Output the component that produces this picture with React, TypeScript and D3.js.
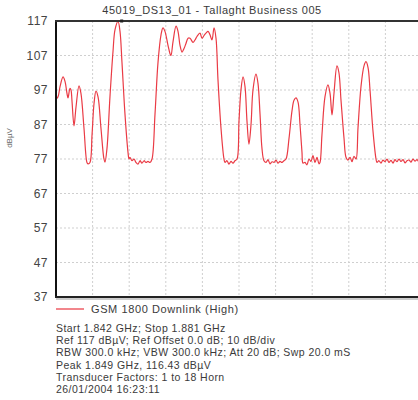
import React, { useEffect, useRef } from 'react';
import * as d3 from 'd3';

const title = '45019_DS13_01 - Tallaght Business 005';
const yLabel = 'dBµV';
const legendLabel = 'GSM 1800 Downlink (High)';
const startMHz = 1842;
const stopMHz = 1881;
const yTicks = [117, 107, 97, 87, 77, 67, 57, 47, 37];
const xDivs = 10;
const peakMHz = 1849;
const infoLines = [
    'Start 1.842 GHz; Stop 1.881 GHz',
    'Ref 117 dBµV; Ref Offset 0.0 dB; 10 dB/div',
    'RBW 300.0 kHz; VBW 300.0 kHz; Att 20 dB; Swp 20.0 mS',
    'Peak 1.849 GHz, 116.43 dBµV',
    'Transducer Factors: 1 to 18 Horn',
    '26/01/2004 16:23:11',
];

// [MHz, dBµV]
const trace: [number, number][] = [
    [1842.00, 94.4], [1842.21, 95], [1842.43, 98], [1842.75, 100.8], [1842.96, 99.5],
    [1843.17, 96], [1843.28, 94.7], [1843.49, 97.5], [1843.60, 97], [1843.70, 94],
    [1843.92, 86.6], [1844.13, 92], [1844.45, 98.2], [1844.66, 96], [1844.98, 86],
    [1845.30, 76], [1845.41, 75.6], [1845.62, 76], [1845.84, 84], [1846.05, 93],
    [1846.26, 96.7], [1846.48, 95], [1846.79, 86], [1847.11, 77], [1847.22, 76.1],
    [1847.43, 80], [1847.75, 95], [1848.07, 108], [1848.29, 114.5], [1848.61, 116.9],
    [1848.82, 114], [1849.03, 105], [1849.35, 90], [1849.67, 79], [1849.78, 77],
    [1849.88, 77.5], [1850.10, 76.5], [1850.31, 77], [1850.52, 76], [1850.74, 75.5],
    [1850.95, 76.5], [1851.16, 75.8], [1851.38, 76.5], [1851.59, 76], [1851.80, 76.3],
    [1852.02, 76], [1852.23, 77], [1852.55, 90], [1852.87, 105], [1853.19, 113],
    [1853.40, 115], [1853.61, 114], [1853.93, 110], [1854.15, 107.5], [1854.25, 107],
    [1854.47, 111], [1854.79, 115.5], [1855.00, 114], [1855.21, 110], [1855.43, 108],
    [1855.64, 109], [1855.85, 110.5], [1856.07, 112], [1856.28, 112], [1856.60, 110.8],
    [1856.81, 111.5], [1857.02, 112.5], [1857.34, 113.5], [1857.56, 112], [1857.77, 112.8],
    [1857.98, 113.5], [1858.20, 114], [1858.41, 113], [1858.62, 111.5], [1858.84, 115],
    [1859.05, 112], [1859.26, 100], [1859.58, 86], [1859.90, 77], [1860.01, 76],
    [1860.22, 76.5], [1860.43, 75.5], [1860.65, 76.3], [1860.86, 75.8], [1861.07, 76.5],
    [1861.29, 77], [1861.50, 88], [1861.71, 97], [1861.93, 100.8], [1862.14, 98],
    [1862.35, 88], [1862.56, 81.3], [1862.78, 87], [1862.99, 97], [1863.31, 101.6],
    [1863.52, 99], [1863.74, 90], [1863.95, 80], [1864.16, 76.5], [1864.38, 76],
    [1864.59, 76.8], [1864.80, 75.6], [1865.02, 76.2], [1865.23, 76], [1865.44, 76.7],
    [1865.65, 75.8], [1865.87, 76.3], [1866.08, 76], [1866.29, 76.5], [1866.51, 77],
    [1866.83, 83], [1867.15, 91], [1867.36, 94], [1867.57, 94.7], [1867.79, 93.5],
    [1868.00, 87], [1868.21, 79], [1868.32, 75.8], [1868.53, 76], [1868.74, 75.3],
    [1868.96, 77], [1869.17, 76.3], [1869.38, 78], [1869.60, 76], [1869.81, 77.5],
    [1870.02, 75.6], [1870.13, 76], [1870.34, 84], [1870.66, 95], [1870.98, 98.5],
    [1871.20, 96], [1871.41, 89.8], [1871.62, 96], [1871.94, 104], [1872.15, 102],
    [1872.37, 94], [1872.69, 83], [1872.90, 77.5], [1873.11, 76.7], [1873.33, 77.5],
    [1873.54, 76.2], [1873.75, 77.8], [1873.97, 77], [1874.18, 86], [1874.50, 98],
    [1874.82, 104], [1875.03, 105.2], [1875.25, 103.5], [1875.46, 97], [1875.78, 85],
    [1876.10, 77], [1876.20, 76], [1876.42, 76.5], [1876.63, 75.8], [1876.84, 76.7],
    [1877.06, 76.2], [1877.27, 77], [1877.48, 76], [1877.70, 76.6], [1877.91, 75.8],
    [1878.12, 76.8], [1878.34, 76.2], [1878.55, 77], [1878.76, 76.3], [1878.98, 76.8],
    [1879.19, 75.9], [1879.40, 76.5], [1879.62, 76.7], [1879.83, 76.1], [1880.04, 77],
    [1880.25, 76.4], [1880.47, 76.8], [1880.68, 76.2], [1881.00, 76.5],
];

const font = '"Liberation Sans", Arial, sans-serif';

const createChart = (container: SVGSVGElement) => {
    const svg = d3.select(container);
    svg.selectAll('*').remove();

    const margin = { top: 21, left: 56 };
    const width = 366, height = 276;

    const x = d3.scaleLinear().domain([startMHz, stopMHz]).range([0, width]);
    const y = d3.scaleLinear().domain([37, 117]).range([height, 0]);

    svg.append('text')
        .attr('x', 212).attr('y', 14)
        .attr('text-anchor', 'middle')
        .style('font-family', font).style('font-size', '11px').style('letter-spacing', '0.55px')
        .style('fill', '#3a3a3a')
        .text(title);

    const chart = svg.append('g').attr('transform', `translate(${margin.left},${margin.top})`);

    // grid
    const step = (stopMHz - startMHz) / xDivs;
    const xGrid = d3.range(1, xDivs).map(i => startMHz + i * step);
    chart.selectAll('.vgrid').data(xGrid).enter().append('line')
        .attr('x1', d => x(d)).attr('x2', d => x(d))
        .attr('y1', 0).attr('y2', height)
        .attr('stroke', '#cfcfcf').attr('stroke-width', 1).attr('stroke-dasharray', '2,2');
    chart.selectAll('.hgrid').data(yTicks.slice(1, -1)).enter().append('line')
        .attr('x1', 0).attr('x2', width)
        .attr('y1', d => y(d)).attr('y2', d => y(d))
        .attr('stroke', '#cfcfcf').attr('stroke-width', 1).attr('stroke-dasharray', '2,2');

    // y tick labels
    chart.selectAll('.ytick').data(yTicks).enter().append('text')
        .attr('x', -8).attr('y', d => y(d) + 4)
        .attr('text-anchor', 'end')
        .style('font-family', font).style('font-size', '12px').style('letter-spacing', '0.5px')
        .style('fill', '#444')
        .text(d => d);

    svg.append('text')
        .attr('transform', 'translate(12,138) rotate(-90)')
        .attr('text-anchor', 'middle')
        .style('font-family', font).style('font-size', '8px').style('fill', '#666')
        .text(yLabel);

    // trace
    const line = d3.line<[number, number]>()
        .x(d => x(d[0])).y(d => y(Math.min(d[1], 117)))
        .curve(d3.curveCatmullRom.alpha(0.5));
    chart.append('path').datum(trace)
        .attr('d', line)
        .attr('fill', 'none').attr('stroke', '#ea3b45').attr('stroke-width', 1.2);

    // frame
    chart.append('line').attr('x1', 0).attr('x2', 0).attr('y1', 0).attr('y2', height)
        .attr('stroke', '#111').attr('stroke-width', 2);
    chart.append('line').attr('x1', -1).attr('x2', width).attr('y1', 0).attr('y2', 0)
        .attr('stroke', '#333').attr('stroke-width', 2);
    chart.append('line').attr('x1', -1).attr('x2', width).attr('y1', height).attr('y2', height)
        .attr('stroke', '#222').attr('stroke-width', 2);
    chart.append('line').attr('x1', 0).attr('x2', width).attr('y1', height + 2).attr('y2', height + 2)
        .attr('stroke', '#999').attr('stroke-width', 1);

    // peak marker
    chart.append('rect')
        .attr('x', x(peakMHz) - 1.5).attr('y', -1.5).attr('width', 3).attr('height', 3)
        .attr('fill', '#222');

    // legend
    svg.append('line').attr('x1', 56).attr('x2', 84).attr('y1', 309).attr('y2', 309)
        .attr('stroke', '#f2868c').attr('stroke-width', 2);
    svg.append('text').attr('x', 91).attr('y', 313)
        .style('font-family', font).style('font-size', '11px').style('letter-spacing', '0.6px')
        .style('fill', '#3a3a3a')
        .text(legendLabel);

    svg.selectAll('.info').data(infoLines).enter().append('text')
        .attr('x', 56).attr('y', (d, i) => 332 + i * 12.2)
        .style('font-family', font).style('font-size', '10.5px').style('letter-spacing', '0.45px')
        .style('fill', '#3a3a3a')
        .text(d => d);
};

const App = () => {
    const ref = useRef<SVGSVGElement>(null);

    useEffect(() => {
        if (ref.current) {
            createChart(ref.current);
        }
    }, []);

    return (
        <svg ref={ref} width={418} height={400}
            style={{ position: 'absolute', left: 0, top: 0, background: '#fff' }} />
    );
};

export default App;
